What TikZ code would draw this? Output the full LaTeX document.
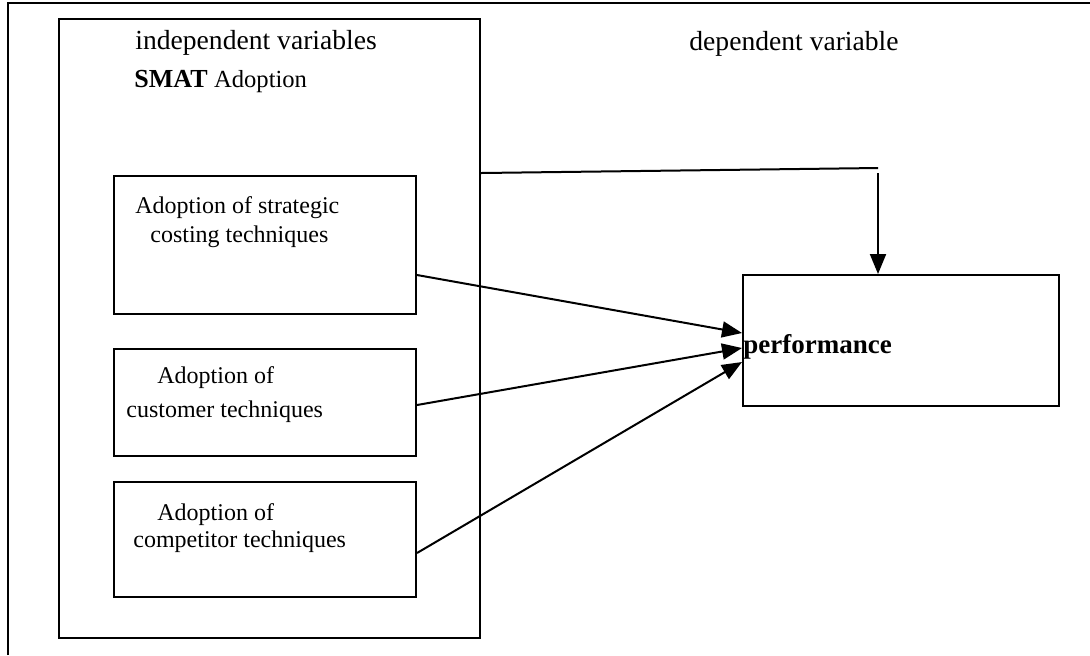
\documentclass[tikz,border=0pt]{standalone}
\usepackage{fontspec}
\setmainfont{Liberation Serif}
\usepackage{tikz}
\usetikzlibrary{positioning, arrows.meta}
\usetikzlibrary{calc}
\tikzstyle{bigbox} = [rectangle, draw=black, line width=1pt, minimum width=210.5pt, minimum height=309.5pt, inner sep=0pt]
\tikzstyle{process} = [rectangle, draw=black, line width=1pt, minimum width=151pt, inner sep=0pt]
\tikzstyle{txt} = [anchor=base west, inner sep=0pt, font=\fontsize{12}{14}\selectfont]
\tikzstyle{head} = [anchor=base west, inner sep=0pt, font=\fontsize{13.8}{16}\selectfont]
\tikzstyle{arrow} = [line width=1pt,-{Triangle[length=10pt,width=8pt]}]
\tikzstyle{link} = [line width=1pt]

\begin{document}
\begin{tikzpicture}[x=0.5pt,y=-0.5pt]
		\useasboundingbox (0,0) rectangle (1090,655);
		\draw [line width=1pt] (8,655) -- (8,3) -- (1090,3);
		\node (adopt) [bigbox] at (269.5,328.5) {};
		\node (strat) [process, minimum height=69pt] at (265,245) {};
		\node (cust) [process, minimum height=53.5pt] at (265,402.5) {};
		\node (comp) [process, minimum height=57.5pt] at (265,539.5) {};
		\node (perf) [rectangle, draw=black, line width=1pt, minimum width=158pt, minimum height=65.5pt, inner sep=0pt] at (901,340.5) {};
		\node (indep) [head] at (135,49) {independent variables};
		\node (smat) [txt] at (134,87) {\fontsize{13}{15}\selectfont\bfseries SMAT \mdseries\fontsize{12.3}{15}\selectfont Adoption};
		\node (dep) [head] at (689,50) {dependent variable};
		\node (strat1) [txt] at (135,213) {Adoption of strategic};
		\node (strat2) [txt] at (150,242) {costing techniques};
		\node (cust1) [txt] at (157,383) {Adoption of};
		\node (cust2) [txt] at (126,417) {customer techniques};
		\node (comp1) [txt] at (157,520) {Adoption of};
		\node (comp2) [txt] at (133,547) {competitor techniques};
		\node (perftxt) [anchor=base west, inner sep=0pt, font=\fontsize{13.5}{16}\selectfont\bfseries] at (743,353) {performance};
		\coordinate (bend) at (878,168);
		\draw [link]([yshift=77.75pt]adopt.east) -- (bend);
		\draw [arrow]([yshift=-2.5pt]bend) -- (bend|-perf.north);
		\draw [arrow]([yshift=-15pt]strat.east) -- ([yshift=3.75pt]perf.west);
		\draw [arrow]([yshift=-1.25pt]cust.east) -- ([yshift=-3.75pt]perf.west);
		\draw [arrow]([yshift=-6.75pt]comp.east) -- ([yshift=-10.75pt]perf.west);
		
	\end{tikzpicture}
\end{document}
